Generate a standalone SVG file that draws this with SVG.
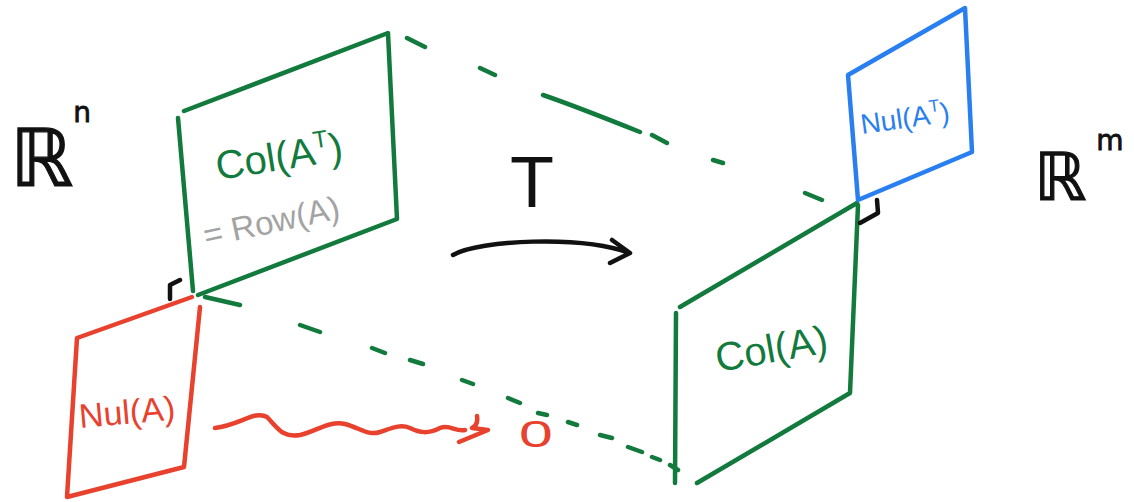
<svg xmlns="http://www.w3.org/2000/svg" width="1134" height="502" viewBox="0 0 1134 502">
<style>
.s{fill:none;stroke-width:4.5;stroke-linecap:round;stroke-linejoin:round}
.g{stroke:#137a3e}.r{stroke:#e8412e}.b{stroke:#2a7ff0}.k{stroke:#111}
.t{font-family:"Liberation Sans","DejaVu Sans",sans-serif}
.tg{fill:#137a3e}.tr{fill:#e8412e}.tb{fill:#2a7ff0}.tk{fill:#111}.tgr{fill:#a3a3a3}
.bb{font-family:"DejaVu Sans",sans-serif;fill:#111;stroke:#111;stroke-width:1.2}
</style>
<rect width="1134" height="502" fill="#fff"/>
<g id="label-Rn"><text class="bb" x="10" y="186" font-size="80">ℝ<tspan font-size="28" stroke-width="0.8" dy="-64">n</tspan></text></g>
<g id="label-Rm"><text class="bb" x="1034" y="200" font-size="66">ℝ<tspan font-size="28" stroke-width="0.8" dx="10" dy="-50">m</tspan></text></g>
<g id="row-space">
<path class="s g" d="M184,111 L388,33 L397,219 L198,295 M178,118 L193,291"/>
<text class="t tg" x="218" y="180" font-size="40" transform="rotate(-9 218 180)">Col(A<tspan font-size="24" dy="-16">T</tspan><tspan dy="16">)</tspan></text>
<text class="t tgr" x="206" y="247" font-size="33" transform="rotate(-12 206 247)">= Row(A)</text>
</g>
<g id="null-space">
<path class="s r" d="M192,297 L77,338 L67,497 L184,467 L200,307"/>
<text class="t tr" x="80" y="428" font-size="34" transform="rotate(-5 80 428)">Nul(A)</text>
</g>
<g id="column-space">
<path class="s g" d="M857,203 L680,307 M676,313 L675,483 M697,483 L850,393 L858,205"/>
<text class="t tg" x="718" y="372" font-size="40" transform="rotate(-10 718 372)">Col(A)</text>
</g>
<g id="left-null-space">
<path class="s b" d="M848,75 L965,8 L972,152 L858,200 Z"/>
<text class="t tb" x="862" y="134" font-size="28" transform="rotate(-8 862 134)">Nul(A<tspan font-size="17" dy="-12">T</tspan><tspan dy="12">)</tspan></text>
</g>
<g id="connectors">
<path class="s k" d="M170,299 L170,285 L180,280 M877,200 L878,213 L860,223"/>
<path class="s g" d="M407,38 L425,47 M480,68 L495,75 M543,95 C575,106 610,120 640,132 M652,135 L667,143 M713,160 L723,163 M805,193 L822,200"/>
<path class="s g" d="M205,297 L240,305 M300,325 L320,332 M372,348 L385,353 M410,360 L423,364 M462,380 L473,384 M508,398 L520,403 M538,413 L547,415 M568,422 L577,425 M600,435 L612,438 M628,447 L642,452 M652,457 L660,460 M670,465 L678,470"/>
<path class="s k" d="M453,255 C480,240 580,235 630,253 M612,240 L630,253 L610,263"/>
<text class="t tk" x="510" y="207" font-size="72">T</text>
<path class="s r" d="M215,428 C240,425 255,410 267,417 C278,428 282,438 300,435 C315,432 330,420 345,424 C360,428 368,436 380,432 C392,428 400,424 410,428 C420,433 428,434 440,428 C450,424 455,432 465,430 M477,416 C478,422 476,426 472,428 L488,430 L459,442"/>
<text class="t tr" x="0" y="0" font-size="38" transform="translate(519,447) scale(1.6,0.95)">0</text>
</g>
</svg>
